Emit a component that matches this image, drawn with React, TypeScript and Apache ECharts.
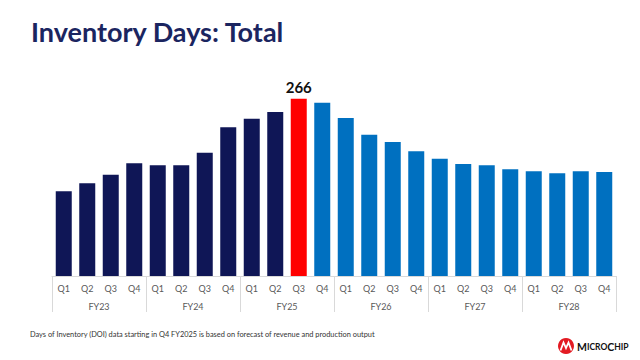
import React, { useEffect, useRef } from "react";
import * as echarts from "echarts";

const fiscalYears = ["FY23", "FY24", "FY25", "FY26", "FY27", "FY28"];
const quarterNames = ["Q1", "Q2", "Q3", "Q4"];
const quarterLabels = fiscalYears.flatMap(() => quarterNames);
const inventoryDays = [
  127, 139, 152, 169, 166, 166, 185, 223, 236, 246, 266, 260,
  237, 212, 201, 187, 176, 168, 166, 160, 157, 154, 157, 156,
];
const peakIndex = 10; // FY25 Q3
const forecastStart = 11; // FY25 Q4

const NAVY = "#0f1656";
const RED = "#ff0000";
const BLUE = "#0070c0";

export default function App() {
  const ref = useRef<HTMLDivElement>(null);
  useEffect(() => {
    if (!ref.current) return;
    const chart = echarts.init(ref.current, undefined, { renderer: "svg" });
    const data = inventoryDays.map((v, i) => ({
      value: v,
      itemStyle: { color: i === peakIndex ? RED : i >= forecastStart ? BLUE : NAVY },
      label: i === peakIndex
        ? { show: true, position: "top", distance: 4, color: "#111", fontWeight: "bold", fontSize: 15, fontFamily: "Lato" }
        : { show: false },
    }));
    chart.setOption({
      animation: false,
      backgroundColor: "#ffffff",
      title: {
        text: "Inventory Days: Total",
        left: 26,
        top: 13,
        textStyle: { fontFamily: "Lato", fontWeight: "bold", fontSize: 27, color: "#1b2560" },
      },
      grid: { left: 52, right: 24, top: 76, bottom: 84 },
      xAxis: [
        {
          type: "category",
          data: quarterLabels,
          position: "bottom",
          axisLine: { show: true, lineStyle: { color: "#d9d9d9", width: 1 } },
          axisTick: { show: false },
          axisLabel: { color: "#595959", fontSize: 9, fontFamily: "Lato", margin: 8, interval: 0 },
        },
        {
          type: "category",
          data: fiscalYears,
          position: "bottom",
          axisLine: { show: false },
          axisTick: { show: true, length: 36, lineStyle: { color: "#d9d9d9" } },
          axisLabel: { color: "#595959", fontSize: 9, fontFamily: "Lato", margin: 26, interval: 0 },
        },
      ],
      yAxis: { type: "value", min: 0, max: 300, show: false, splitLine: { show: false } },
      series: [
        {
          type: "bar",
          xAxisIndex: 0,
          data,
          barWidth: 16,
        },
      ],
      graphic: [
        {
          type: "text",
          left: 30,
          top: 331,
          style: {
            text: "Days of Inventory (DOI) data starting in Q4 FY2025 is based on forecast of revenue and production output",
            fontSize: 7.4,
            fontFamily: "Lato",
            fill: "#333333",
          },
        },
        {
          type: "group",
          left: 558,
          top: 338,
          children: [
            { type: "circle", shape: { cx: 8, cy: 8, r: 8 }, style: { fill: "#e31b23" } },
            {
              type: "polyline",
              shape: { points: [[2.5, 12.5], [5.5, 4.5], [8, 10], [10.5, 4.5], [13.5, 12.5]] },
              style: { stroke: "#ffffff", lineWidth: 1.8, fill: "none" },
            },
            {
              type: "text",
              x: 19,
              y: 3,
              style: {
                text: "{b|M}{s|ICRO}{b|C}{s|HIP}",
                fontFamily: "Lato",
                fill: "#111111",
                rich: {
                  b: { fontSize: 10.5, fontWeight: "bold", fontFamily: "Lato", fill: "#111111" },
                  s: { fontSize: 8.5, fontWeight: "bold", fontFamily: "Lato", fill: "#111111" },
                },
              },
            },
          ],
        },
      ],
    });
    return () => chart.dispose();
  }, []);
  return <div ref={ref} style={{ position: "fixed", left: 0, top: 0, width: 640, height: 360 }} />;
}
